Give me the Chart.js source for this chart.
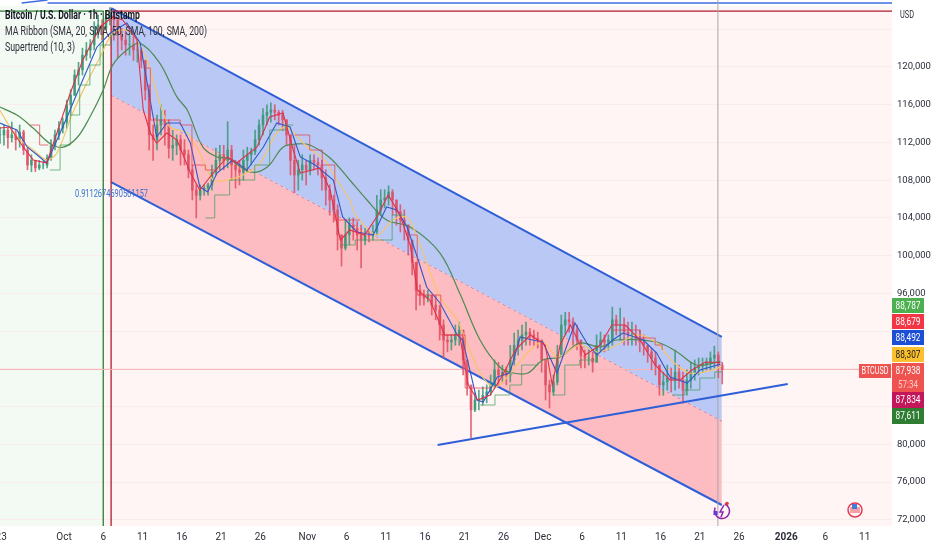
<!DOCTYPE html>
<html>
<head>
<meta charset="utf-8">
<title>BTCUSD</title>
<script src="https://cdn.jsdelivr.net/npm/chart.js@4/dist/chart.umd.min.js"></script>
<style>
  html, body { margin: 0; padding: 0; background: #ffffff; }
  canvas { display: block; }
</style>
</head>
<body>
<canvas id="btcChart" width="932" height="550"></canvas>
<script>
// Days are counted from 1 Oct 2025, prices are USD
const xTickDays = [-8, 0, 5, 10, 15, 20, 25, 31, 36, 41, 46, 51, 56, 61, 66, 71, 76, 81, 86, 92, 97, 102];
const xTickLabels = ['23', 'Oct', '6', '11', '16', '21', '26', 'Nov', '6', '11', '16', '21', '26', 'Dec', '6', '11', '16', '21', '26', '2026', '6', '11'];
const yTickValues = [72000, 76000, 80000, 84000, 88000, 92000, 96000, 100000, 104000, 108000, 112000, 116000, 120000, 124000];
const hiddenPriceTicks = [84000, 88000, 92000, 124000];

// One candle every half day, starting at candleStartDay
const candleStartDay = -8.15;
const candleHighs = [
  113600,113850,113500,114170,113300,113850,113300,111400,110700,110100,
  110100,110000,110700,112300,113300,114200,114600,116500,117600,119700,
  120500,122000,122600,122900,124800,125500,125000,126000,126300,126000,
  125000,124100,123900,123400,123400,122900,122000,120700,118100,113850,
  114900,116000,115400,114400,113300,112800,112800,112300,111200,109600,
  107500,107500,107500,107700,109600,111400,111700,111700,114200,111700,
  110100,110100,111200,111500,111400,113300,114400,115600,116000,116200,
  116000,115400,115400,114400,112800,111700,110100,110700,110100,110700,
  110700,110350,110100,109100,107500,106400,105400,102200,103800,104000,
  104000,103600,103250,102900,102700,103250,106400,107000,107000,107400,
  107000,105900,105400,104850,103250,101650,99300,96900,96350,96350,
  95800,95800,94750,93200,91600,91600,92650,92950,92100,87900,
  85200,85450,85750,86100,86300,87350,88950,88700,88400,88200,
  90500,91800,92100,92650,92950,92300,92100,91900,91050,88400,
  86800,87350,90500,93700,94000,94000,93400,92650,91050,90000,
  90000,89800,91600,91900,91600,91600,94550,93700,94450,93400,
  92950,92950,92650,92100,91600,90500,90200,89800,88400,87650,
  88400,88100,90000,88400,87650,87900,88700,88950,89150,89150,
  89150,89800,90400,89800,88700
];
const candleLows = [
  111900,111700,111400,112050,111200,111500,110700,109100,108900,108900,
  109100,109200,109300,110100,111200,112300,113000,113500,114900,117000,
  118100,119150,120700,120950,121800,123050,122850,123900,124450,122850,
  120950,121800,121250,121250,120700,120500,119900,116500,111200,110100,
  111200,112800,111700,110350,110100,110700,109600,109600,108250,105900,
  104000,105900,106400,106400,106950,108550,109100,109100,109300,108000,
  107150,107500,108000,108850,109600,110700,111700,112800,113850,114150,
  114400,113850,113300,111700,108550,106650,106950,108000,107500,108550,
  109100,108550,106950,105350,104300,103550,100600,98900,100600,101150,
  101650,100600,98700,101150,101450,101650,102200,104300,105050,105350,
  104300,103250,102500,101650,100050,97950,94250,94750,94750,95100,
  93700,93200,91050,89150,89800,90000,90500,90500,87350,85200,
  80700,83450,83650,84150,84400,85200,85950,86300,86600,86300,
  86600,88400,89450,90000,90500,90500,90500,90200,87650,84700,
  83850,85200,86300,90000,91600,91900,90500,90000,88100,88100,
  88400,87650,88700,89800,89800,90000,90500,91600,91050,90500,
  90500,90500,90500,89800,89450,88700,87900,87350,85200,85200,
  85750,85550,85750,85950,84400,85200,85950,86800,87350,87650,
  87900,87900,88100,87050,86400
];
const candleCloses = [
  112800,113300,112500,112800,112300,113100,111200,109600,110100,109300,
  109600,109600,110350,111700,112800,113500,114150,116000,117000,119150,
  119700,121250,121800,122350,123900,124450,124100,125200,125500,125000,
  123400,122850,122350,122350,121800,121800,120700,117550,112800,112300,
  113850,114400,113850,111400,111700,112300,111200,110700,109100,106950,
  106400,106950,107150,107500,108850,110100,110700,110100,111200,109600,
  109100,108850,110100,110700,111000,112300,113850,114900,115200,115450,
  115200,114900,114400,112800,110100,108550,109100,109600,109100,110100,
  109900,109600,108250,106950,105900,104850,102200,100800,102200,103250,
  102900,102200,101650,102200,102100,102500,104850,105900,106100,106750,
  105900,104650,103800,103250,101650,99300,96350,95800,95500,95800,
  94750,94250,92650,91050,90850,91050,91600,92100,88950,86300,
  83650,84700,84700,85200,85550,86300,87900,87350,87650,87350,
  88950,90500,91050,91600,91900,91600,91250,91050,88950,86300,
  85550,86600,89450,92650,93200,93000,92100,91050,89450,89150,
  89150,88700,90500,91050,90850,91050,93200,92650,92650,91900,
  91600,91600,91250,90850,90500,89800,89150,88400,86300,86600,
  87050,86800,87650,86800,85750,86800,87650,88100,88300,88500,
  88700,89150,89450,88400,87938
];

// [day, price] pairs
const sma20 = [[-8.2,113530],[-6.9,113640],[-5.2,111520],[-3.9,110140],[-2.2,109820],[-0.9,113000],[0.8,117240],[2.4,120740],[4.6,124240],[6.2,125300],[7.5,124980],[9.3,122860],[10.1,115440],[11,113000],[11.8,111940],[13.1,113000],[14.4,112260],[16.1,108760],[17.3,106960],[19,108760],[20.8,110460],[22,109820],[24.6,111520],[26.2,114700],[27.9,115120],[29.2,111200],[30.1,108760],[32.6,109290],[33.9,106960],[35.2,101660],[36.4,102720],[38.3,102190],[40,104310],[41.3,106430],[42.8,104310],[44.1,101130],[45,96360],[46.6,95300],[48.5,91590],[50.4,91590],[51.5,86290],[52.7,84700],[54.3,85230],[55.9,87350],[57.5,90000],[59.4,91590],[61.3,90530],[62.2,86290],[63.2,90530],[64.5,92650],[66.4,89470],[68.3,90530],[69.8,92650],[71.5,92650],[73.4,91060],[75.3,88410],[77.2,86820],[78.5,86820],[80,87880],[81.7,88730],[83.6,88679]];
const sma50 = [[-8.2,114060],[-6,113320],[-4.7,111520],[-3.4,110670],[-2.2,109820],[-0.9,112260],[0.4,114700],[2,117880],[4.2,122120],[5.9,123600],[8,124660],[9.7,122540],[10.6,118300],[11.8,112580],[13.1,114060],[14.8,114060],[16.1,111940],[17.3,107280],[18.3,106750],[19.5,108760],[21.5,110140],[23.3,109080],[25.4,111520],[27.1,114060],[28.8,113640],[30.1,110460],[32,109610],[34.3,108020],[35.5,104100],[37.3,102510],[39.4,102190],[41.1,105160],[42.4,104840],[43.7,103040],[45,99860],[46.2,96680],[47.9,94980],[50.1,91590],[50.8,91060],[52.6,84700],[53.4,84490],[55.2,87140],[56.8,87560],[58.1,91380],[59.7,91060],[61,90850],[62.8,87560],[65.1,92860],[66.6,90740],[67.9,89470],[69.9,91060],[71.2,91800],[73.8,91060],[75.5,89680],[77.2,87140],[79.4,86500],[81,87880],[83.6,88492]];
const sma100 = [[-8.2,115440],[-6,112580],[-3.9,111200],[-2.2,110140],[-0.9,110880],[1.1,115120],[2.9,118300],[4.6,121060],[6.2,123600],[7.8,123920],[9,123180],[10.6,120740],[12.2,116180],[13.5,113640],[15.7,113000],[17.3,110880],[19,108020],[20.8,108020],[22.8,108550],[25,109820],[27.1,113000],[28.4,113640],[31,111520],[33.2,110140],[34.8,108020],[36.4,105900],[37.3,104100],[39.9,102190],[41.9,103780],[43.7,104100],[45,101980],[46.2,99220],[47.9,95620],[50.1,93180],[51.3,90740],[53,87560],[54.6,86080],[55.5,86290],[57.2,87880],[59.4,90000],[61,90850],[62.8,89260],[65.7,90530],[67.9,89790],[69.9,90320],[73,91590],[75.5,90740],[77.6,88730],[79.7,87560],[82.7,87880],[83.8,88307]];
const sma200 = [[-8.2,115760],[-6,114900],[-3.9,113500],[-1.8,111900],[-0.1,111500],[1.7,112550],[3.3,114700],[5,117560],[6.2,120200],[8,121800],[9.7,122500],[12.2,120400],[14.4,116800],[15.7,115440],[17.7,111500],[19.5,110450],[20.8,110350],[23.7,108870],[25.9,109400],[27.9,111500],[29.7,111840],[31.3,111730],[33.9,110350],[36.4,108020],[38.6,105900],[41.1,103780],[44.1,103040],[47.9,100280],[50.4,96040],[53,91060],[55.5,88200],[57.2,87560],[59.1,87560],[61,88940],[63.2,89260],[65.7,90740],[68.3,90320],[70.4,91060],[75.5,90850],[78.1,89790],[80.6,88410],[83.6,88787]];

// Supertrend, null price breaks the line
const supertrendUp = [[-1.8,109080],[-0.5,111730],[0.8,114910],[2,118090],[3.3,120210],[4.6,122330],[5.9,123390],[6.9,123390],[7,null],[18,104000],[19.2,106430],[21.1,108020],[23.1,108020],[24.3,109610],[26.2,113320],[28.2,113850],[29.2,113850],[29.3,null],[35.2,101130],[37.1,101660],[39.6,101660],[41.8,104310],[43.4,104310],[43.5,null],[53,84170],[54.9,85230],[56.8,86290],[58.3,88410],[60.4,88730],[60.5,null],[62.3,85230],[63.8,88410],[65.7,88940],[67.6,88940],[67.7,null],[77.5,85230],[79.1,85760],[81,87030],[82.9,87670],[83.8,87611]];
const supertrendDown = [[-4.3,113850],[-3.1,111730],[-2,111730],[-1.9,null],[10.1,119890],[11,114380],[12.9,114380],[14.8,113850],[16.3,109610],[18,109080],[19.4,109080],[19.5,null],[29.4,112790],[31.3,111200],[32.9,109610],[34.5,103780],[35.8,103780],[37.7,103780],[37.8,null],[44.1,102190],[45,95830],[47.9,95830],[48,91590],[50.7,91590],[51.1,85970],[54.3,85970],[54.4,null],[69.8,92120],[73.4,91270],[75.3,90530],[76.2,90000]];

// Drawn lines on the chart
const channelDays = [6, 83.8];
const channelUpper = [126250, 91380];
const channelMiddle = [117030, 82470];
const channelLower = [107800, 73570];
const trendDays = [47.6, 92.2];
const trendPrices = [79930, 86400];
const lastPrice = 87938;
const entryPrice = 125930;
const topPrice = 126770;
const greenLineDay = 5;
const redLineDay = 6;
const cursorDay = 83.3;

// Price tags on the right axis, top to bottom
const priceTags = ['88,787', '88,679', '88,492', '88,307', '87,938', '87,834', '87,611'];
const tagColors = ['#4caf50', '#f23645', '#1d4fd6', '#fbc02d', '#ef5350', '#c2185b', '#2e7d32'];
const tagTextColors = ['#ffffff', '#ffffff', '#ffffff', '#1a1a1a', '#ffffff', '#ffffff', '#ffffff'];
const tagTops = [298, 314, 330, 347, 363, 392, 408];
const tagHeights = [15, 15, 15, 15, 29, 16, 16];

const FONT = 'Roboto, "Liberation Sans", sans-serif';

function pairs(list) {
    return list.map(p => ({ x: p[0], y: p[1] }));
}

function lineSet(points, color, width, order, extra) {
    return Object.assign({
        type: 'line',
        data: points,
        borderColor: color,
        borderWidth: width,
        pointRadius: 0,
        tension: 0,
        fill: false,
        order: order
    }, extra || {});
}

const candleOpens = candleCloses.map((c, i) => i === 0 ? c : candleCloses[i - 1]);
const candleDays = candleCloses.map((c, i) => candleStartDay + i * 0.5);
const candleColors = candleCloses.map((c, i) => c >= candleOpens[i] ? 'rgba(60,150,120,0.85)' : 'rgba(222,80,100,0.85)');

// Page background, tags, legend and icons
const chartDecor = {
    id: 'chartDecor',
    beforeDraw(chart) {
        const { ctx, chartArea: a, scales } = chart;
        const split = scales.x.getPixelForValue(greenLineDay);
        ctx.save();
        ctx.fillStyle = '#ffffff';
        ctx.fillRect(0, 0, chart.width, chart.height);
        ctx.fillStyle = '#f3faf3';
        ctx.fillRect(a.left, 6, split - a.left, a.bottom - 6);
        ctx.fillStyle = '#fff5f5';
        ctx.fillRect(split, 6, a.right - split, a.bottom - 6);
        ctx.restore();
    },
    afterDraw(chart) {
        const { ctx, chartArea: a } = chart;
        ctx.save();
        ctx.textBaseline = 'middle';

        // legend, the original text is condensed so maxWidth squeezes it
        ctx.textAlign = 'left';
        ctx.fillStyle = '#131722';
        ctx.font = 'bold 12px ' + FONT;
        ctx.fillText('Bitcoin / U.S. Dollar · 1h · Bitstamp', 5, 16, 135);
        ctx.font = '12px ' + FONT;
        ctx.fillStyle = '#2a2e39';
        ctx.fillText('MA Ribbon (SMA, 20, SMA, 50, SMA, 100, SMA, 200)', 5, 32, 202);
        ctx.fillText('Supertrend (10, 3)', 5, 48, 70);

        ctx.font = '11px ' + FONT;
        ctx.fillStyle = '#3d6fd1';
        ctx.fillText('0.9112674690561157', 75, 194, 73);

        // USD box
        ctx.fillStyle = '#ffffff';
        ctx.fillRect(a.right + 1, 2, 38, 26);
        ctx.fillStyle = '#2a2e39';
        ctx.fillText('USD', 900, 15, 14);

        // tags
        ctx.textAlign = 'center';
        priceTags.forEach((t, i) => {
            ctx.fillStyle = tagColors[i];
            ctx.fillRect(a.right, tagTops[i], 32, tagHeights[i]);
            ctx.fillStyle = tagTextColors[i];
            ctx.fillText(t, a.right + 16, tagTops[i] + 8, 25);
        });
        ctx.fillStyle = '#ffc9c9';
        ctx.fillText('57:34', a.right + 16, 385, 20);
        ctx.fillStyle = '#ef5350';
        ctx.fillRect(859, 364, 32, 14);
        ctx.fillStyle = '#ffffff';
        ctx.fillText('BTCUSD', 875, 371, 27);

        // lightning mark
        ctx.strokeStyle = '#8e24aa';
        ctx.lineWidth = 1.5;
        ctx.beginPath();
        ctx.arc(722, 511, 7.5, -1.2, 3.6);
        ctx.stroke();
        ctx.beginPath();
        ctx.moveTo(724, 505);
        ctx.lineTo(720, 512);
        ctx.lineTo(723, 512);
        ctx.lineTo(721, 517);
        ctx.stroke();
        ctx.fillStyle = '#6a35d9';
        ctx.fillRect(713.5, 511, 4, 4);
        ctx.fillStyle = '#e53935';
        ctx.beginPath();
        ctx.arc(727, 503.5, 1.8, 0, Math.PI * 2);
        ctx.fill();

        // calendar flag
        ctx.strokeStyle = '#e53950';
        ctx.lineWidth = 1.5;
        ctx.beginPath();
        ctx.arc(855, 510, 7, 0, Math.PI * 2);
        ctx.stroke();
        ctx.fillStyle = '#f3a0a8';
        ctx.fillRect(850, 507, 10, 6);
        ctx.fillStyle = '#3f7fd8';
        ctx.fillRect(852, 504, 5, 5);
        ctx.restore();
    }
};

new Chart(document.getElementById('btcChart').getContext('2d'), {
    type: 'line',
    plugins: [chartDecor],
    data: {
        datasets: [
            // channel fills
            lineSet(channelDays.map((d, i) => ({ x: d, y: channelUpper[i] })), '#2f5fd8', 2, 30, {
                fill: { target: 1, above: '#bac8f5', below: '#bac8f5' }
            }),
            lineSet(channelDays.map((d, i) => ({ x: d, y: channelMiddle[i] })), '#dd5566', 1, 31, {
                borderDash: [3, 3],
                fill: { target: 2, above: '#fcbcc1', below: '#fcbcc1' }
            }),
            lineSet(channelDays.map((d, i) => ({ x: d, y: channelLower[i] })), '#2f5fd8', 2, 30),

            // level lines
            lineSet([{ x: -9, y: lastPrice }, { x: 106, y: lastPrice }], '#f6b5b5', 1, 25),
            lineSet([{ x: cursorDay, y: 71000 }, { x: cursorDay, y: 128000 }], '#a8a8a8', 1, 25),
            lineSet([{ x: greenLineDay, y: 71000 }, { x: greenLineDay, y: entryPrice }, { x: -9, y: entryPrice }], '#2e7d32', 1.3, 25),
            lineSet([{ x: redLineDay, y: 71000 }, { x: redLineDay, y: entryPrice }, { x: 106, y: entryPrice }], '#b01c2e', 1.3, 25),
            lineSet([{ x: -2.1, y: topPrice }, { x: 106, y: topPrice }], '#3d6be0', 1.5, 25),
            lineSet([{ x: -5.4, y: topPrice }, { x: -2.1, y: 127100 }], '#3d6be0', 1.5, 25),

            // candles
            {
                type: 'bar',
                data: candleDays.map((d, i) => ({ x: d, y: [candleLows[i], candleHighs[i]] })),
                backgroundColor: candleColors,
                barThickness: 1,
                grouped: false,
                order: 20
            },
            {
                type: 'bar',
                data: candleDays.map((d, i) => ({ x: d, y: [candleOpens[i], candleCloses[i]] })),
                backgroundColor: candleColors,
                barThickness: 2,
                grouped: false,
                order: 19
            },

            // ribbon
            lineSet(pairs(sma200), '#4f8a52', 1.2, 12, { tension: 0.35 }),
            lineSet(pairs(sma100), '#f6c56b', 1.2, 11, { tension: 0.3 }),
            lineSet(pairs(sma50), '#2f58c8', 1.1, 10),
            lineSet(pairs(sma20), '#e0304a', 1.1, 9),

            // supertrend
            lineSet(pairs(supertrendUp), 'rgba(63,154,86,0.7)', 1, 8, { stepped: 'before' }),
            lineSet(pairs(supertrendDown), 'rgba(229,58,74,0.7)', 1, 8, { stepped: 'before' }),

            // trend line
            lineSet(trendDays.map((d, i) => ({ x: d, y: trendPrices[i] })), '#2f5fd8', 2, 5)
        ]
    },
    options: {
        responsive: false,
        animation: false,
        devicePixelRatio: 1,
        layout: { padding: 0 },
        plugins: { legend: { display: false }, tooltip: { enabled: false } },
        events: [],
        scales: {
            x: {
                type: 'linear',
                offset: false,
                min: -8.153,
                max: 105.48,
                grid: { display: false, offset: false, drawTicks: false },
                border: { display: false },
                afterBuildTicks(scale) {
                    scale.ticks = xTickDays.map(v => ({ value: v }));
                },
                afterFit(scale) {
                    scale.height = 24;
                    scale.paddingLeft = 0;
                    scale.paddingRight = 0;
                },
                ticks: {
                    autoSkip: false,
                    maxRotation: 0,
                    padding: 5,
                    color: '#2a2e39',
                    font: ctx => ({
                        family: FONT,
                        size: 10,
                        weight: xTickLabels[ctx.index] === '2026' ? 'bold' : 'normal'
                    }),
                    callback: (v, i) => xTickLabels[i]
                }
            },
            y: {
                position: 'right',
                min: 71344,
                max: 127100,
                grid: { color: '#fbecec', drawTicks: false },
                border: { display: false },
                afterBuildTicks(scale) {
                    scale.ticks = yTickValues.map(v => ({ value: v }));
                },
                afterFit(scale) {
                    scale.width = 40;
                    scale.paddingTop = 0;
                    scale.paddingBottom = 0;
                },
                ticks: {
                    autoSkip: false,
                    padding: 5,
                    color: '#2a2e39',
                    font: { family: FONT, size: 9.5 },
                    callback: v => hiddenPriceTicks.includes(v) ? '' : v.toLocaleString('en-US')
                }
            }
        }
    }
});
</script>
</body>
</html>
